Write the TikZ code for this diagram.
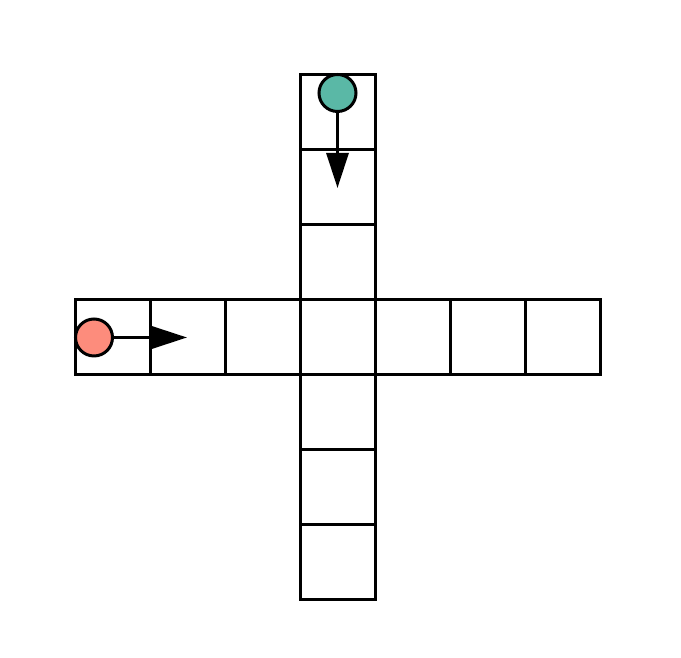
\documentclass[tikz,border=0pt]{standalone}
\usetikzlibrary{arrows.meta}
\definecolor{tealc}{HTML}{5AB8A6}
\definecolor{salmonc}{HTML}{FD8C7C}
\begin{document}
\begin{tikzpicture}[x=1pt,y=1pt,
  cell/.style={draw=black,line width=3pt,minimum size=75pt,inner sep=0pt,outer sep=0pt},
  agent/.style={circle,draw=black,line width=3pt,minimum size=37pt,inner sep=0pt},
  move/.style={line width=3pt,-{Triangle[length=35pt,width=22pt]}}]
\useasboundingbox (0,0) rectangle (681,658);
% horizontal row
\foreach \i/\x in {1/112.5,2/187.5,3/262.5,5/412.5,6/487.5,7/562.5}
  \node[cell] (h\i) at (\x,320.5) {};
% vertical column
\foreach \j/\y in {1/545.5,2/470.5,3/395.5,4/320.5,5/245.5,6/170.5,7/95.5}
  \node[cell] (v\j) at (337.5,\y) {};
% agents
\node[agent,fill=tealc] (a) at (337.5,565) {};
\node[agent,fill=salmonc] (b) at (94,320.5) {};
\coordinate (at) at (337.5,470);
\coordinate (bt) at (187,320.5);
\draw[move] (a.south) -- (at);
\draw[move] (b.east) -- (bt);
\end{tikzpicture}
\end{document}
